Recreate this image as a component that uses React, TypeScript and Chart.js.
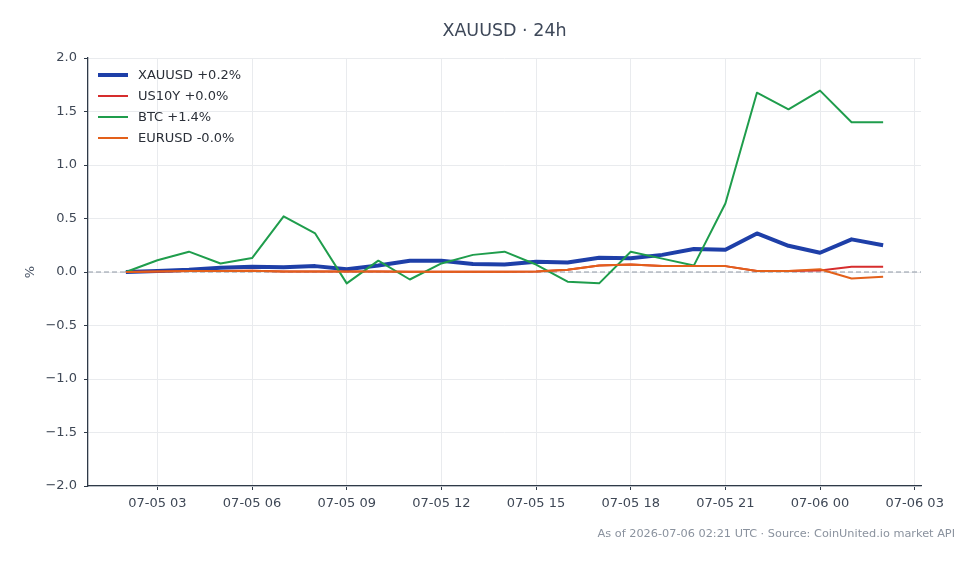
import React, { useEffect, useRef } from "react";
import { Chart, registerables } from "chart.js";

Chart.register(...registerables);

// Hours since 07-05 00:00 UTC for each hourly sample
const hours = [2, 3, 4, 5, 6, 7, 8, 9, 10, 11, 12, 13, 14, 15, 16, 17, 18, 19, 20, 21, 22, 23, 24, 25, 26];

// Percent change since the first sample
const xauusd = [0.0, 0.01, 0.02, 0.04, 0.05, 0.045, 0.055, 0.025, 0.06, 0.105, 0.105, 0.075, 0.07, 0.095, 0.088, 0.133, 0.128, 0.16, 0.215, 0.208, 0.36, 0.245, 0.18, 0.305, 0.25];
const us10y = [0.0, 0.005, 0.01, 0.01, 0.012, 0.005, 0.005, 0.005, 0.005, 0.003, 0.003, 0.003, 0.003, 0.005, 0.02, 0.06, 0.07, 0.055, 0.055, 0.055, 0.01, 0.01, 0.015, 0.05, 0.05];
const btc = [0.0, 0.11, 0.19, 0.08, 0.13, 0.52, 0.36, -0.106, 0.106, -0.07, 0.08, 0.16, 0.19, 0.07, -0.09, -0.106, 0.19, 0.125, 0.06, 0.64, 1.676, 1.52, 1.695, 1.4, 1.4];
const eurusd = [0.0, 0.005, 0.01, 0.01, 0.012, 0.005, 0.005, 0.005, 0.005, 0.003, 0.003, 0.003, 0.003, 0.005, 0.02, 0.06, 0.07, 0.055, 0.055, 0.055, 0.01, 0.01, 0.025, -0.06, -0.045];

const seriesNames = ["XAUUSD +0.2%", "US10Y +0.0%", "BTC +1.4%", "EURUSD -0.0%"];
const seriesColors = ["#1e3fa8", "#d62d2d", "#1f9d4c", "#e3601a"];
const seriesWidths = [4, 2, 2, 2];

const xTickHours = [3, 6, 9, 12, 15, 18, 21, 24, 27];
const yTicks = [-2.0, -1.5, -1.0, -0.5, 0.0, 0.5, 1.0, 1.5, 2.0];

const titleText = "XAUUSD · 24h";
const footerText = "As of 2026-07-06 02:21 UTC · Source: CoinUnited.io market API";
const yAxisLabel = "%";

const FONT = "'DejaVu Sans', sans-serif";

function hourLabel(h: number): string {
  const day = 5 + Math.floor(h / 24);
  const hh = h % 24;
  return `07-${String(day).padStart(2, "0")} ${String(hh).padStart(2, "0")}`;
}

const decorations = {
  id: "decorations",
  beforeDatasetsDraw(chart: any) {
    const { ctx, chartArea, scales } = chart;
    const y0 = scales.y.getPixelForValue(0);
    ctx.save();
    ctx.strokeStyle = "#8f98a4";
    ctx.lineWidth = 1;
    ctx.setLineDash([5, 3]);
    ctx.beginPath();
    ctx.moveTo(chartArea.left, y0);
    ctx.lineTo(chartArea.right, y0);
    ctx.stroke();
    ctx.restore();
  },
  afterDraw(chart: any) {
    const { ctx, chartArea } = chart;
    ctx.save();
    // title
    ctx.fillStyle = "#3e4859";
    ctx.font = `17.5px ${FONT}`;
    ctx.textAlign = "center";
    ctx.textBaseline = "middle";
    ctx.fillText(titleText, (chartArea.left + chartArea.right) / 2, 31);

    // y axis label
    ctx.save();
    ctx.translate(31, (chartArea.top + chartArea.bottom) / 2);
    ctx.rotate(-Math.PI / 2);
    ctx.font = `13px ${FONT}`;
    ctx.fillStyle = "#4a5566";
    ctx.fillText(yAxisLabel, 0, 0);
    ctx.restore();

    // legend
    ctx.font = `13px ${FONT}`;
    ctx.textAlign = "left";
    seriesNames.forEach((name, i) => {
      const y = 75 + i * 21;
      ctx.strokeStyle = seriesColors[i];
      ctx.lineWidth = seriesWidths[i];
      ctx.beginPath();
      ctx.moveTo(98, y);
      ctx.lineTo(128, y);
      ctx.stroke();
      ctx.fillStyle = "#2a2f38";
      ctx.fillText(name, 138, y + 1);
    });

    // footer
    ctx.font = `11.3px ${FONT}`;
    ctx.fillStyle = "#8a929e";
    ctx.textAlign = "right";
    ctx.fillText(footerText, 955, 534);
    ctx.restore();
  },
};

export default function App() {
  const canvasRef = useRef<HTMLCanvasElement | null>(null);

  useEffect(() => {
    if (!canvasRef.current) return;
    const series = [xauusd, us10y, btc, eurusd];
    const chart = new Chart(canvasRef.current, {
      type: "line",
      data: {
        datasets: series.map((vals, i) => ({
          label: seriesNames[i],
          data: vals.map((v, j) => ({ x: hours[j], y: v })),
          borderColor: seriesColors[i],
          backgroundColor: seriesColors[i],
          borderWidth: seriesWidths[i],
          pointRadius: 0,
          tension: 0,
          borderJoinStyle: "round" as const,
          borderCapStyle: "butt" as const,
          order: 4 - i,
        })),
      },
      options: {
        animation: false,
        responsive: false,
        devicePixelRatio: 1,
        layout: { padding: { top: 58, right: 58, left: 0, bottom: 0 } },
        plugins: {
          legend: { display: false },
          title: { display: false },
          tooltip: { enabled: false },
        },
        scales: {
          x: {
            type: "linear",
            min: 0.8,
            max: 27.2,
            afterFit(scale: any) {
              scale.height = 78;
            },
            afterBuildTicks(scale: any) {
              scale.ticks = xTickHours.map((v) => ({ value: v }));
            },
            ticks: {
              autoSkip: false,
              maxRotation: 0,
              padding: 6,
              color: "#3f4856",
              font: { family: FONT, size: 13 },
              callback: (v: any) => hourLabel(Number(v)),
            },
            grid: {
              color: "#e9ebee",
              tickColor: "#2f3a48",
              tickLength: 4,
              lineWidth: 1,
            },
            border: { color: "#2f3a48", width: 1.3 },
          },
          y: {
            min: -2,
            max: 2,
            afterFit(scale: any) {
              scale.width = 88;
            },
            afterBuildTicks(scale: any) {
              scale.ticks = yTicks.map((v) => ({ value: v }));
            },
            ticks: {
              padding: 7,
              color: "#3f4856",
              font: { family: FONT, size: 13 },
              callback: (v: any) => Number(v).toFixed(1).replace("-", "\u2212"),
            },
            grid: {
              color: "#e9ebee",
              tickColor: "#2f3a48",
              tickLength: 4,
              lineWidth: 1,
            },
            border: { color: "#2f3a48", width: 1.3 },
          },
        },
      },
      plugins: [decorations],
    });
    return () => chart.destroy();
  }, []);

  return (
    <div style={{ position: "fixed", left: 0, top: 0, width: 979, height: 564, background: "#ffffff" }}>
      <canvas ref={canvasRef} width={979} height={564} style={{ width: 979, height: 564 }} />
    </div>
  );
}
